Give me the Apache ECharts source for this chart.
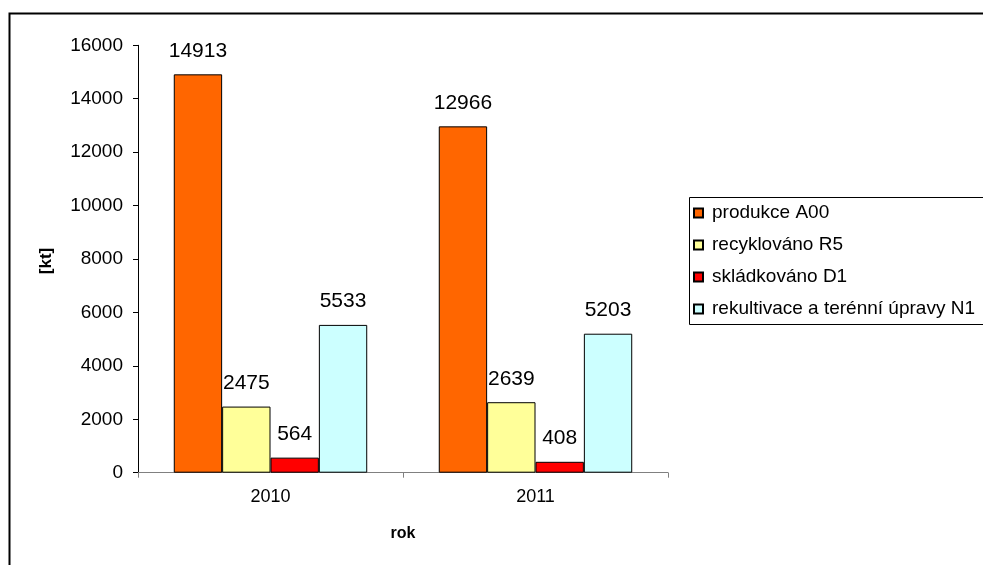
<!DOCTYPE html>
<html><head><meta charset="utf-8">
<script src="https://cdn.jsdelivr.net/npm/echarts@6/dist/echarts.min.js"></script>
<style>html,body{margin:0;padding:0;background:#fff}#c{width:983px;height:565px}</style>
</head><body><div id="c"></div>
<script>
const categories = ['2010', '2011'];
const seriesNames = ['produkce A00', 'recyklováno R5', 'skládkováno D1', 'rekultivace a terénní úpravy N1'];
const produkce = [14913, 12966];
const recyklovano = [2475, 2639];
const skladkovano = [564, 408];
const rekultivace = [5533, 5203];
const yTicks = [0, 2000, 4000, 6000, 8000, 10000, 12000, 14000, 16000];
const colors = ['#FF6600', '#FFFF99', '#FF0000', '#CCFFFF'];
const values = [produkce, recyklovano, skladkovano, rekultivace];
const FONT = 'Liberation Sans, Arial, sans-serif';

const chart = echarts.init(document.getElementById('c'), null, {renderer: 'canvas'});
chart.setOption({
  animation: false,
  textStyle: {fontFamily: FONT},
  grid: {left: 138, right: 315, top: 45.3, bottom: 92.3, containLabel: false},
  xAxis: {
    type: 'category', data: categories,
    axisLine: {lineStyle: {color: '#808080', width: 1}},
    axisTick: {show: true, length: 5, lineStyle: {color: '#808080'}},
    axisLabel: {color: '#000', fontSize: 18, margin: 15, fontFamily: FONT}
  },
  yAxis: {
    type: 'value', min: yTicks[0], max: yTicks[yTicks.length - 1], interval: 2000,
    axisLine: {show: true, lineStyle: {color: '#000', width: 1}},
    axisTick: {show: true, length: 5, lineStyle: {color: '#000'}},
    splitLine: {show: false},
    axisLabel: {color: '#000', fontSize: 19, margin: 15, fontFamily: FONT, formatter: v => String(v)}
  },
  legend: {
    left: 693, top: 203, orient: 'vertical', icon: 'rect',
    itemWidth: 9, itemHeight: 9, itemGap: 12, padding: 0,
    data: seriesNames,
    textStyle: {color: '#000', fontSize: 19, lineHeight: 20, fontFamily: FONT, padding: [0, 0, 0, 4]}
  },
  series: seriesNames.map((n, i) => ({
    name: n, type: 'bar', data: values[i],
    barGap: 0, barCategoryGap: '27%',
    itemStyle: {color: colors[i], borderColor: '#000', borderWidth: 1},
    label: {show: true, position: 'top', distance: 13, color: '#000', fontSize: 21, fontFamily: FONT}
  })),
  graphic: [
    {type: 'rect', left: 7, top: 11, shape: {width: 1100, height: 700}, style: {fill: 'none', stroke: '#000', lineWidth: 2}, silent: true},
    {type: 'rect', left: 687, top: 195, shape: {width: 400, height: 127}, style: {fill: 'none', stroke: '#000', lineWidth: 1}, silent: true},
    {type: 'text', x: 46, y: 261, rotation: Math.PI / 2, style: {text: '[kt]', font: 'bold 17px ' + FONT, fill: '#000', align: 'center', verticalAlign: 'middle'}},
    {type: 'text', x: 403, y: 534, style: {text: 'rok', font: 'bold 16px ' + FONT, fill: '#000', align: 'center', verticalAlign: 'middle'}}
  ]
});
</script></body></html>
